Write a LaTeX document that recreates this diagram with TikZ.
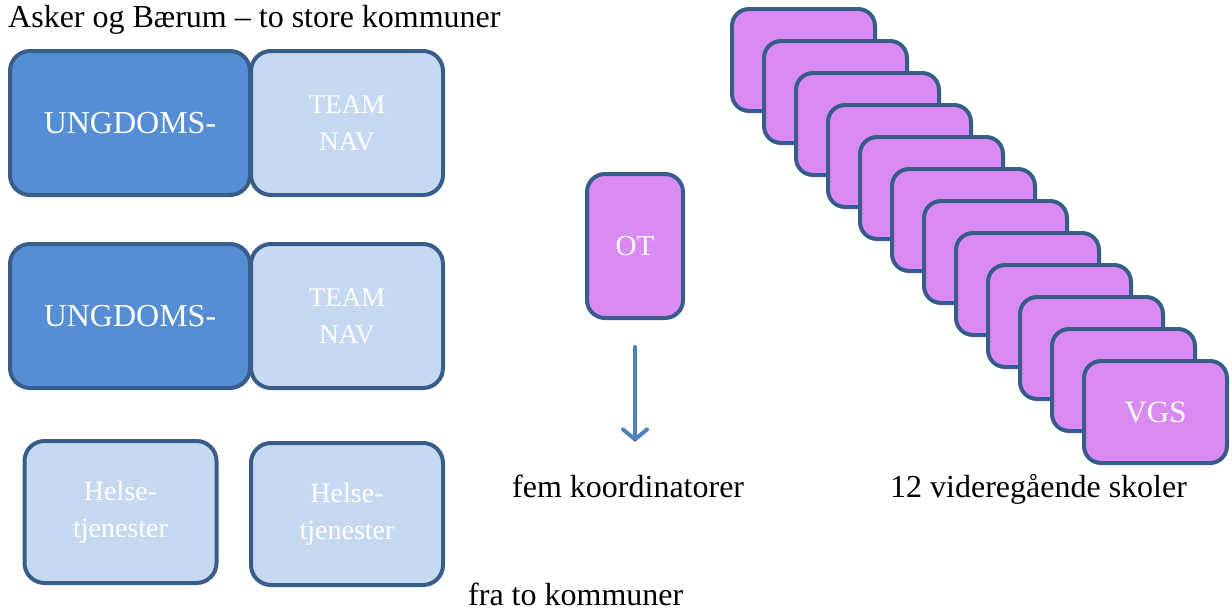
\documentclass[tikz,border=0pt]{standalone}
\usepackage{fontspec}
\setmainfont{Liberation Serif}
\usepackage{tikz}
\usetikzlibrary{arrows.meta}

\definecolor{boxline}{HTML}{385D8A}
\definecolor{ungblue}{HTML}{558ED5}
\definecolor{lightblue}{HTML}{C6D9F1}
\definecolor{vgspurple}{HTML}{D98BF3}
\definecolor{arrowblue}{HTML}{4F81BD}

\tikzset{
  box/.style={draw=boxline, line width=4pt, rounded corners=20pt, text=white, align=center, inner sep=0pt},
  ungbox/.style={box, fill=ungblue, minimum width=240pt, minimum height=144pt, font=\fontsize{32}{38}\selectfont},
  navbox/.style={box, fill=lightblue, minimum width=192pt, minimum height=144pt, font=\fontsize{27}{37}\selectfont},
  helsebox/.style={box, fill=lightblue, minimum width=192pt, minimum height=142pt, font=\fontsize{28}{37}\selectfont},
  vgsbox/.style={box, fill=vgspurple, rounded corners=17pt, minimum width=143pt, minimum height=102pt, font=\fontsize{31}{37}\selectfont},
  lbl/.style={inner sep=0pt, anchor=base west, font=\fontsize{32}{38}\selectfont}
}

\begin{document}
\begin{tikzpicture}[x=1pt, y=-1pt]
    \useasboundingbox (0,0) rectangle (1232,611);

    % two municipalities
    \node[lbl] (title) at (8,27) {Asker og Bærum – to store kommuner};
    \node[navbox] (nav1) at (347,123) {TEAM\\NAV};
    \node[ungbox] (ung1) at (130,123) {UNGDOMS-};
    \node[navbox] (nav2) at (347,316) {TEAM\\NAV};
    \node[ungbox] (ung2) at (130,316) {UNGDOMS-};
    \node[helsebox] (helse1) at (120.5,512) {Helse-\\tjenester};
    \node[helsebox] (helse2) at (347,514) {Helse-\\tjenester};
    \node[lbl] (fra) at (468,605) {fra to kommuner};

    % OT
    \node[box, fill=vgspurple, minimum width=96pt, minimum height=144pt, rounded corners=18pt,
          font=\fontsize{29}{36}\selectfont] (ot) at (635,246) {OT};
    \coordinate (arrtop) at (635,347);
    \coordinate (arrbot) at (635,442);
    \draw[arrowblue, line width=4pt, line cap=round, -{Straight Barb[length=10pt, width=24pt, line cap=round]}] (arrtop) -- (arrbot);
    \node[lbl] (fem) at (512,497) {fem koordinatorer};

    % schools
    \foreach \i in {0,...,10}
        \node[vgsbox] (vgs\i) at ({803.5+32*\i},{60+32*\i}) {};
    \node[vgsbox] (vgs11) at (1155.5,412) {VGS};
    \node[lbl] (skoler) at (890,497) {12 videregående skoler};

\end{tikzpicture}
\end{document}
